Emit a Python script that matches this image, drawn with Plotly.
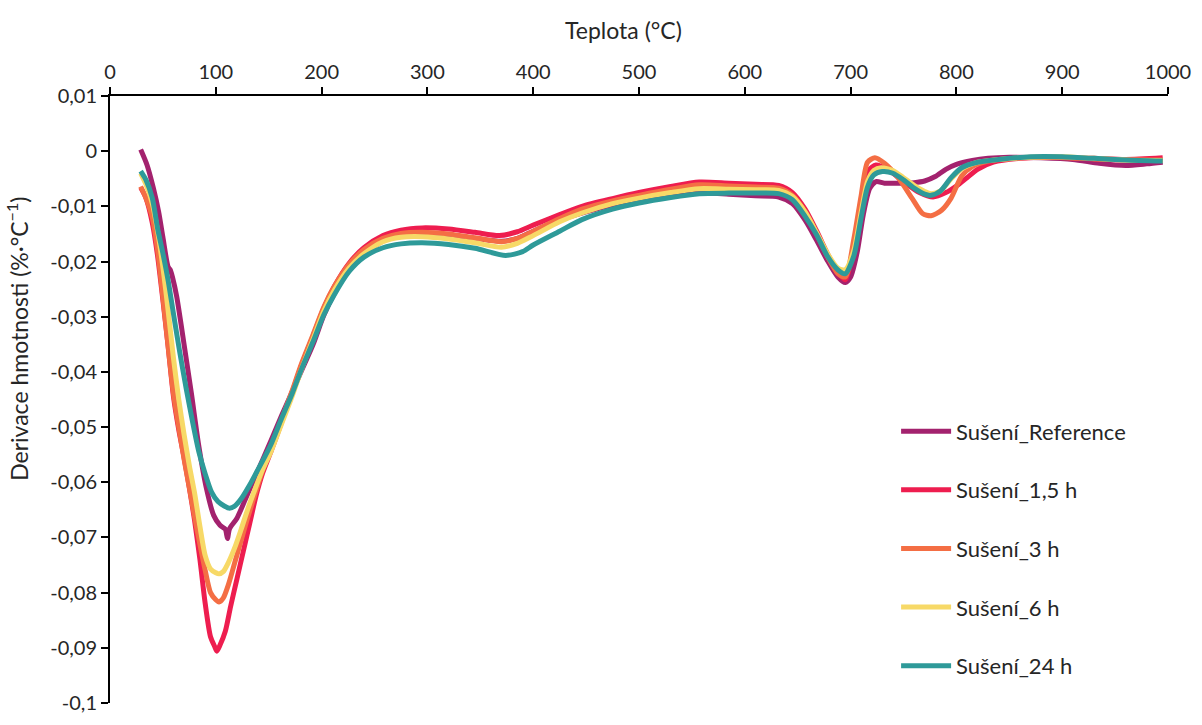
import plotly.graph_objects as go

# Derivative thermogravimetry (DTG) curves for samples dried for different times
series_names = ["Sušení_Reference", "Sušení_1,5 h", "Sušení_3 h", "Sušení_6 h", "Sušení_24 h"]
series_colors = ["#A3226E", "#EE1D4F", "#F46E44", "#F7D967", "#2E9A99"]

ref_t = [29, 35, 41, 46, 50, 55, 57, 59, 63, 70, 77, 84, 91, 98, 104, 109, 111, 113, 120, 127, 135,
         143, 152, 162, 172, 181, 192, 202, 212, 225, 240, 258, 275, 295, 320, 345, 370, 385, 400, 425,
         450, 475, 500, 530, 557, 585, 610, 632, 645, 657, 668, 678, 688, 695, 700, 706, 712, 718, 724,
         732, 745, 760, 770, 780, 790, 800, 815, 830, 850, 880, 910, 935, 960, 980, 995]
ref_v = [0.0003, -0.0025, -0.0067, -0.011, -0.0156, -0.021, -0.0215, -0.0228, -0.0263, -0.035,
         -0.044, -0.0535, -0.061, -0.066, -0.0678, -0.0685, -0.0702, -0.0684, -0.0665, -0.0635, -0.060,
         -0.0565, -0.0525, -0.048, -0.0437, -0.0398, -0.035, -0.0298, -0.0258, -0.0218, -0.0188,
         -0.0163, -0.0153, -0.0149, -0.0152, -0.0158, -0.0163, -0.0158, -0.0145, -0.0125, -0.011,
         -0.0097, -0.0087, -0.008, -0.0076, -0.0078, -0.0081, -0.0083, -0.0095, -0.0125, -0.0162,
         -0.0198, -0.0228, -0.0238, -0.0228, -0.0185, -0.0115, -0.0068, -0.0055, -0.0058, -0.0058,
         -0.0057, -0.0054, -0.0046, -0.0033, -0.0024, -0.0017, -0.0013, -0.0011, -0.0012, -0.0015,
         -0.0022, -0.0026, -0.0023, -0.002]

r15_t = [29, 34, 40, 45, 50, 55, 60, 65, 70, 75, 80, 85, 90, 95, 99, 101, 104, 109, 114, 120, 126,
         132, 138, 144, 152, 162, 172, 181, 192, 202, 212, 226, 240, 258, 275, 295, 320, 345, 368, 385,
         400, 425, 446, 475, 500, 530, 557, 585, 610, 632, 645, 657, 668, 678, 688, 695, 703, 710, 717,
         724, 735, 750, 765, 778, 790, 800, 810, 820, 835, 860, 890, 930, 960, 995]
r15_v = [-0.0066, -0.0085, -0.013, -0.019, -0.027, -0.0355, -0.0445, -0.0505, -0.0555, -0.061,
         -0.067, -0.074, -0.082, -0.088, -0.0898, -0.0906, -0.0895, -0.087, -0.0825, -0.0775, -0.0725,
         -0.0675, -0.0625, -0.0585, -0.0545, -0.0492, -0.0438, -0.0388, -0.0335, -0.0285, -0.0245,
         -0.0203, -0.0175, -0.0153, -0.0143, -0.0139, -0.0141, -0.0147, -0.0153, -0.0146, -0.0134,
         -0.0115, -0.01, -0.0086, -0.0075, -0.0064, -0.0056, -0.0058, -0.006, -0.0062, -0.0075,
         -0.0105, -0.0145, -0.0185, -0.022, -0.0233, -0.017, -0.009, -0.0035, -0.0025, -0.0033,
         -0.0055, -0.0075, -0.0083, -0.0075, -0.0063, -0.0048, -0.0033, -0.002, -0.0013, -0.0011,
         -0.0013, -0.0015, -0.0012]

r3_t = [29, 34, 40, 45, 50, 55, 60, 65, 70, 75, 80, 85, 90, 95, 100, 103, 107, 112, 118, 124, 130,
        137, 144, 152, 162, 172, 181, 192, 202, 212, 226, 240, 258, 275, 295, 320, 345, 370, 385, 400,
        425, 446, 475, 500, 530, 557, 585, 610, 632, 645, 657, 668, 678, 688, 695, 703, 710, 716, 723,
        732, 745, 758, 768, 776, 786, 795, 805, 815, 830, 860, 890, 930, 960, 995]
r3_v = [-0.0064, -0.0085, -0.012, -0.018, -0.0265, -0.0355, -0.044, -0.050, -0.0558, -0.061,
        -0.0663, -0.0713, -0.076, -0.080, -0.0813, -0.0817, -0.081, -0.0785, -0.0745, -0.0705, -0.0665,
        -0.0622, -0.058, -0.054, -0.0488, -0.0435, -0.0385, -0.0332, -0.0283, -0.0245, -0.0205,
        -0.0178, -0.0158, -0.0149, -0.0147, -0.015, -0.0157, -0.0164, -0.0158, -0.0145, -0.0122,
        -0.0105, -0.009, -0.008, -0.0069, -0.0061, -0.0063, -0.0065, -0.0067, -0.008, -0.011,
        -0.015, -0.019, -0.0222, -0.0228, -0.016, -0.008, -0.002, -0.0012, -0.0022, -0.0048,
        -0.0085, -0.0113, -0.0117, -0.0107, -0.0085, -0.0045, -0.0028, -0.0018, -0.0012, -0.0011,
        -0.0014, -0.0016, -0.0016]

r6_t = [29, 34, 40, 45, 50, 55, 60, 65, 70, 75, 80, 85, 90, 95, 100, 103, 107, 112, 118, 124, 130,
        137, 144, 152, 162, 172, 181, 192, 202, 212, 226, 240, 258, 275, 295, 320, 345, 370, 385, 400,
        425, 446, 475, 500, 530, 557, 585, 610, 632, 645, 657, 668, 678, 688, 695, 703, 710, 716, 722,
        729, 740, 750, 760, 770, 776, 785, 795, 805, 820, 840, 870, 900, 930, 960, 995]
r6_v = [-0.004, -0.006, -0.0095, -0.0145, -0.021, -0.029, -0.0375, -0.045, -0.0513, -0.057, -0.062,
        -0.068, -0.0733, -0.0757, -0.0764, -0.0766, -0.0762, -0.0745, -0.0718, -0.0685, -0.065,
        -0.0613, -0.0578, -0.0545, -0.0495, -0.0445, -0.0395, -0.034, -0.029, -0.0252, -0.0212,
        -0.0186, -0.0164, -0.0156, -0.0155, -0.0159, -0.0166, -0.0174, -0.0167, -0.0153, -0.0128,
        -0.0112, -0.0095, -0.0085, -0.0075, -0.0068, -0.0069, -0.007, -0.0071, -0.0082, -0.011,
        -0.0148, -0.0185, -0.0212, -0.0215, -0.018, -0.011, -0.0055, -0.0035, -0.003, -0.0035,
        -0.0048, -0.0062, -0.0073, -0.0077, -0.0072, -0.005, -0.0032, -0.002, -0.0015, -0.0011,
        -0.001, -0.0013, -0.0016, -0.0017]

r24_t = [29, 34, 40, 45, 50, 55, 60, 66, 72, 78, 84, 90, 96, 102, 108, 113, 118, 124, 132, 139, 146,
         152, 162, 172, 181, 192, 202, 212, 226, 240, 258, 275, 295, 320, 345, 374, 390, 400, 425, 446,
         475, 500, 530, 557, 585, 610, 632, 645, 657, 668, 678, 688, 695, 703, 710, 716, 722, 730, 740,
         750, 760, 770, 776, 785, 795, 805, 820, 840, 870, 900, 930, 960, 995]
r24_v = [-0.0036, -0.0052, -0.0085, -0.014, -0.0185, -0.0235, -0.0295, -0.0365, -0.043, -0.049,
         -0.0545, -0.0585, -0.0618, -0.0635, -0.0643, -0.0647, -0.0643, -0.063, -0.0605, -0.058,
         -0.0555, -0.0532, -0.0485, -0.044, -0.0395, -0.0345, -0.0297, -0.026, -0.0218, -0.0192,
         -0.0175, -0.0168, -0.0166, -0.0169, -0.0176, -0.0189, -0.0182, -0.017, -0.0145, -0.0124,
         -0.0105, -0.0094, -0.0084, -0.0077, -0.0076, -0.0076, -0.0077, -0.0088, -0.0118, -0.0152,
         -0.019, -0.0215, -0.0222, -0.019, -0.012, -0.0065, -0.0043, -0.0037, -0.004, -0.0052,
         -0.0067, -0.0078, -0.008, -0.0072, -0.0048, -0.003, -0.002, -0.0015, -0.001, -0.001,
         -0.0013, -0.0016, -0.0018]

series_t = [ref_t, r15_t, r3_t, r6_t, r24_t]
series_v = [ref_v, r15_v, r3_v, r6_v, r24_v]

x_ticks = [0, 100, 200, 300, 400, 500, 600, 700, 800, 900, 1000]
y_ticks = [0.01, 0, -0.01, -0.02, -0.03, -0.04, -0.05, -0.06, -0.07, -0.08, -0.09, -0.1]
y_tick_text = ["0,01", "0", "-0,01", "-0,02", "-0,03", "-0,04", "-0,05", "-0,06", "-0,07",
               "-0,08", "-0,09", "-0,1"]

FONT = "Lato, 'Open Sans', sans-serif"
TEXT = "#262626"

fig = go.Figure()
for i, name in enumerate(series_names):
    fig.add_trace(go.Scatter(
        x=series_t[i], y=series_v[i], name=name, mode="lines",
        line=dict(color=series_colors[i], width=5, shape="spline", smoothing=0.7),
        legendgroup=name,
    ))

fig.update_layout(
    width=1202, height=725,
    margin=dict(l=110, r=32, t=96, b=11),
    paper_bgcolor="white", plot_bgcolor="white",
    font=dict(family=FONT, size=20, color=TEXT),
    showlegend=True,
    legend=dict(
        x=0.743, y=0.482, xanchor="left", yanchor="top",
        bgcolor="rgba(0,0,0,0)", font=dict(size=22, color=TEXT),
        tracegroupgap=27, itemwidth=50,
    ),
    xaxis=dict(
        range=[0, 1000], side="top", tickvals=x_ticks, ticks="outside", ticklen=7,
        tickwidth=2, tickcolor="black", showline=True, linecolor="black", linewidth=2,
        showgrid=False, zeroline=False, tickfont=dict(size=20, color=TEXT),
    ),
    yaxis=dict(
        range=[-0.1, 0.01], tickvals=y_ticks, ticktext=y_tick_text, ticks="outside",
        ticklen=7, tickwidth=2, tickcolor="black", showline=True, linecolor="black",
        linewidth=2, showgrid=False, zeroline=False, tickfont=dict(size=20, color=TEXT),
    ),
    annotations=[
        dict(text="Teplota (°C)", xref="paper", yref="paper", x=0.485, y=1.0, yshift=66,
             showarrow=False, xanchor="center", yanchor="middle",
             font=dict(size=23, color=TEXT)),
        dict(text="Derivace hmotnosti (%·°C<sup>−1</sup>)", xref="paper", yref="paper",
             x=0, xshift=-92, y=0.6, textangle=-90, showarrow=False,
             xanchor="center", yanchor="middle", font=dict(size=23, color=TEXT)),
    ],
)

fig.write_html("out.html")
